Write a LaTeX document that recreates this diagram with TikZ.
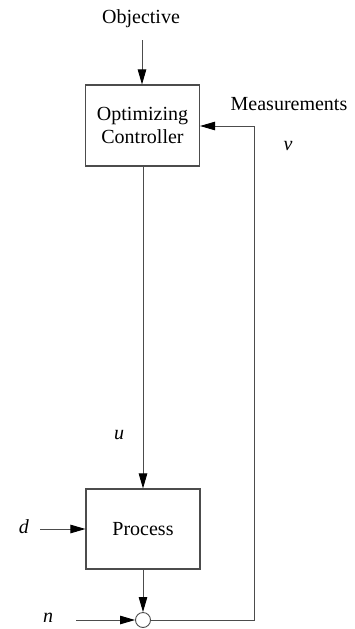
\documentclass[tikz,border=0pt]{standalone}
\usepackage{fontspec}
\setmainfont{Liberation Serif}
\usetikzlibrary{arrows.meta}
\begin{document}
\begin{tikzpicture}[x=1pt,y=-1pt,
  txt/.style={font=\fontsize{20}{23}\selectfont, inner sep=0pt, text=black},
  itxt/.style={txt, font=\fontsize{20}{23}\selectfont\itshape},
  blockbox/.style={draw=black!70, line width=1.1pt, minimum width=114pt, align=center,
                   font=\fontsize{20}{23}\selectfont, inner sep=0pt},
  wire/.style={draw=black!70, line width=0.9pt},
  sig/.style={wire, -{Triangle[length=15pt,width=8.5pt,color=black]}},
  sum/.style={circle, draw=black!70, line width=0.9pt, fill=white, minimum size=15pt, inner sep=0pt}]
  \useasboundingbox (0,0) rectangle (354,629);
  % blocks
  \node[blockbox, minimum height=81pt] (ctrl) at (142.5,125.5) {Optimizing\\Controller};
  \node[blockbox, minimum height=80pt] (proc) at (143,529) {Process};
  \node[sum] (sum) at (143,620) {};
  % labels
  \node[txt] (obj) at (141,19) {Objective};
  \node[txt] (meas) at (289,104) {Measurements};
  \node[itxt] (v) at (288,146) {v};
  \node[itxt] (u) at (119,435) {u};
  \node[itxt] (d) at (24,527) {d};
  \node[itxt] (n) at (48,618) {n};
  \coordinate (objend) at (142,40);
  \coordinate (dend) at (40,529);
  \coordinate (nend) at (76,620);
  \coordinate (fbcorner) at (254,620);
  \coordinate (fbtop) at (254,126);
  % connections
  \draw[sig] (objend) -- (ctrl.north -| objend);
  \draw[sig] (ctrl.south -| proc.north) -- (proc.north);
  \draw[sig] (dend) -- (proc.west |- dend);
  \draw[sig] (proc.south) -- (sum.north);
  \draw[sig] (nend) -- (sum.west);
  \draw[sig] (sum.east) -- (fbcorner) -- (fbtop) -- (ctrl.east |- fbtop);
\end{tikzpicture}
\end{document}
